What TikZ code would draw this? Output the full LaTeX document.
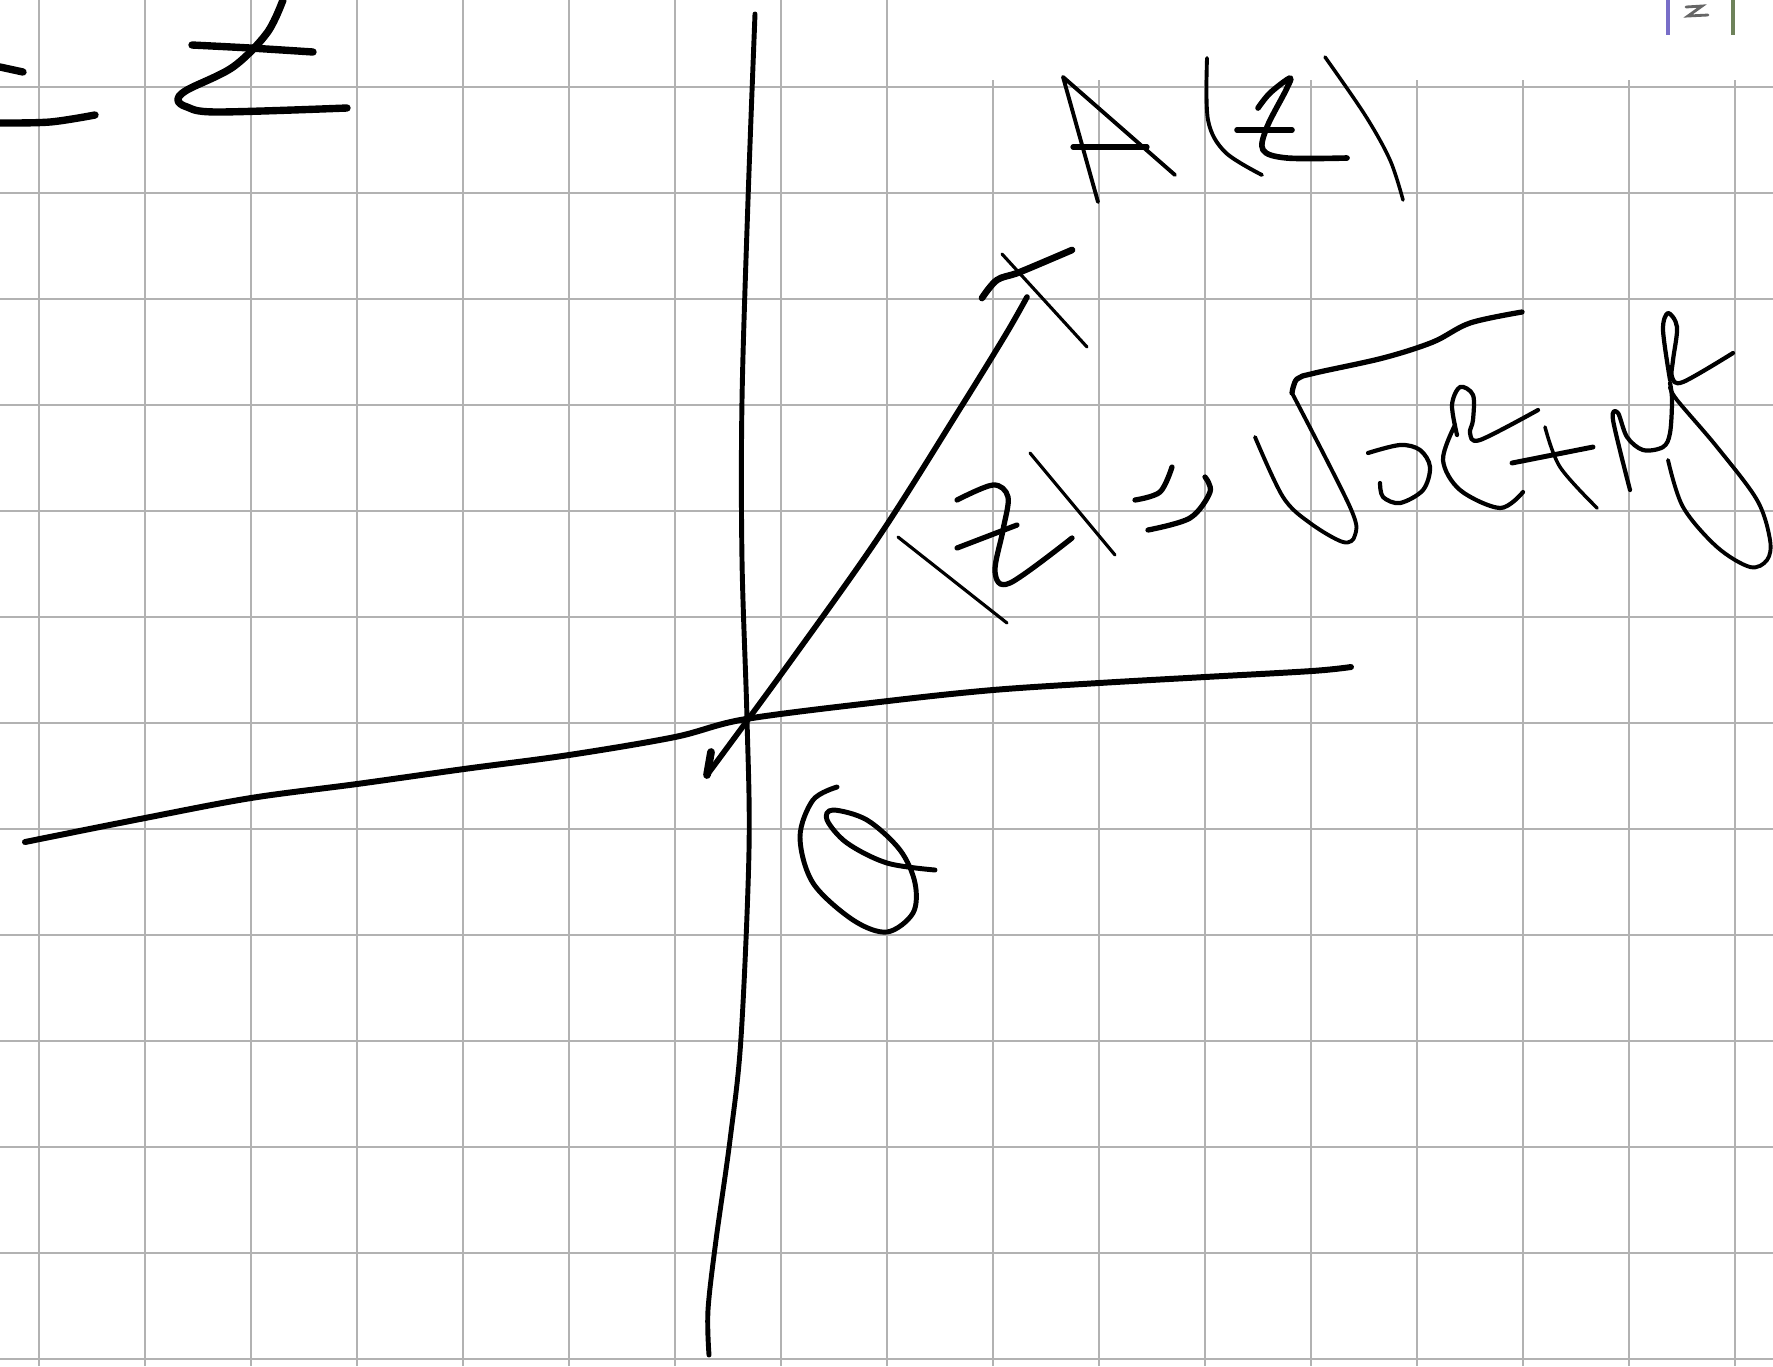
\documentclass[tikz,border=0pt]{standalone}
\begin{document}
\begin{tikzpicture}[x=0.01cm,y=-0.01cm,
  gridline/.style={draw=gray!60,line width=0.6pt},
  pen/.style={draw=black,line width=1.5pt,line cap=round,line join=round},
  thickpen/.style={draw=black,line width=2.1pt,line cap=round,line join=round},
  thinpen/.style={draw=black,line width=0.9pt,line cap=round,line join=round},
  hand/.style={smooth,tension=0.55}]
\useasboundingbox (0,0) rectangle (1773,1366);
\fill[white] (0,0) rectangle (1773,1366);
% grid paper
\foreach \x in {39,145,251,357,463,569,675,781,887}
  \draw[gridline] (\x,0) -- (\x,1366);
\foreach \x in {993,1099,...,1735}
  \draw[gridline] (\x,80) -- (\x,1366);
\foreach \y in {87,193,...,1359}
  \draw[gridline] (0,\y) -- (1773,\y);
% top-left "= z"
\draw[thickpen] (0,67) -- (23,72);
\draw[thickpen] plot[hand] coordinates {(0,123) (50,122) (95,115)};
\draw[thickpen] plot[hand] coordinates {(283,0) (267,33) (233,67) (187,90) (178,100) (187,107) (217,112) (347,108)};
\draw[thickpen] plot[hand] coordinates {(192,45) (250,48) (313,52)};
% top-right cut-off "|z|"
\draw[line width=0.9pt,draw={rgb,255:red,120;green,110;blue,200}] (1668,0) -- (1668,35);
\draw[line width=0.9pt,draw={rgb,255:red,110;green,130;blue,90}] (1733,0) -- (1733,35);
\draw[line width=0.8pt,draw=gray!80!black,line cap=round] (1686,7) -- (1702,6) -- (1688,16) -- (1708,15);
% vertical axis
\draw[pen,line width=1.4pt] plot[hand] coordinates {(755,14) (748,200) (742,400) (742,560) (747,719) (749,850) (741,1038) (730,1140) (716,1240) (708,1310) (709,1355)};
% horizontal axis
\draw[pen,line width=1.7pt] plot[hand] coordinates {(25,842) (145,818) (251,798) (357,784) (464,769) (569,755) (675,737) (746,719) (888,701) (993,690) (1099,683) (1205,677) (1312,671) (1351,667)};
% vector OA
\draw[pen,line width=1.6pt] plot[hand] coordinates {(707,775) (790,662) (880,535) (961,407) (1006,334) (1027,297)};
\draw[pen,line width=2.2pt] (707,775) -- (711,752);
% point A cross
\draw[pen,line width=1.9pt] plot[hand] coordinates {(982,298) (997,280) (1020,272) (1072,250)};
\draw[thinpen] (1002,254) -- (1087,347);
% A(z)
\draw[thinpen,line width=1.1pt] (1098,202) -- (1063,77) -- (1175,175);
\draw[pen] (1073,147) -- (1147,147);
\draw[thinpen,line width=1.1pt] plot[hand] coordinates {(1207,58) (1208,120) (1225,152) (1262,175)};
\draw[pen,line width=1.6pt] plot[hand] coordinates {(1258,108) (1270,93) (1290,78) (1286,90) (1267,127) (1263,150) (1287,158) (1347,158)};
\draw[pen,line width=1.6pt] (1237,130) -- (1292,130);
\draw[thinpen,line width=1.0pt] plot[hand] coordinates {(1325,57) (1365,115) (1390,160) (1403,200)};
% |z| = sqrt(x^2+y^2)
\draw[thinpen] (898,537) -- (1007,623);
\draw[pen] plot[hand] coordinates {(957,500) (993,485) (1008,497) (1003,530) (995,572) (1010,583) (1072,538)};
\draw[pen] (957,548) -- (1017,525);
\draw[thinpen] (1030,453) -- (1115,555);
\draw[pen] plot[hand] coordinates {(1172,467) (1160,492) (1135,500)};
\draw[pen] plot[hand] coordinates {(1148,530) (1190,518) (1210,492) (1205,477)};
\draw[pen,line width=1.1pt] plot[hand] coordinates {(1255,437) (1283,497) (1310,523) (1343,542) (1355,535) (1350,507) (1292,393)};
\draw[pen,line width=1.5pt] plot[hand] coordinates {(1292,393) (1297,379) (1315,373) (1383,358) (1433,342) (1470,323) (1522,312)};
\draw[pen,line width=1.2pt] plot[hand] coordinates {(1368,453) (1400,445) (1420,450) (1430,467) (1423,490) (1400,503) (1383,497) (1380,483)};
\draw[pen,line width=1.2pt] plot[hand] coordinates {(1455,425) (1443,460) (1460,490) (1500,508) (1523,492)};
\draw[pen,line width=1.2pt] plot[hand] coordinates {(1457,435) (1452,405) (1460,387) (1473,395) (1473,420) (1470,433) (1480,440) (1538,410)};
\draw[pen,line width=1.4pt] (1512,463) -- (1593,447);
\draw[pen,line width=1.0pt] plot[hand] coordinates {(1545,427) (1560,467) (1597,508)};
\draw[pen,line width=1.2pt] plot[hand] coordinates {(1630,490) (1613,420) (1618,413) (1627,437) (1643,450) (1663,447) (1670,433) (1672,400) (1670,383)};
\draw[pen,line width=1.2pt] plot[hand] coordinates {(1670,380) (1663,330) (1668,313) (1677,327) (1673,360) (1672,377) (1683,382) (1733,353)};
\draw[pen,line width=1.1pt] plot[hand] coordinates {(1668,460) (1683,507) (1717,547) (1750,567) (1767,560) (1770,540) (1757,500) (1717,447) (1677,400) (1670,387)};
% O label
\draw[pen,line width=1.4pt] plot[hand] coordinates {(837,787) (813,800) (800,837) (813,883) (853,920) (887,932) (913,913) (915,883) (900,850) (867,820) (833,810) (827,820) (847,843) (887,863) (935,870)};
\end{tikzpicture}
\end{document}
